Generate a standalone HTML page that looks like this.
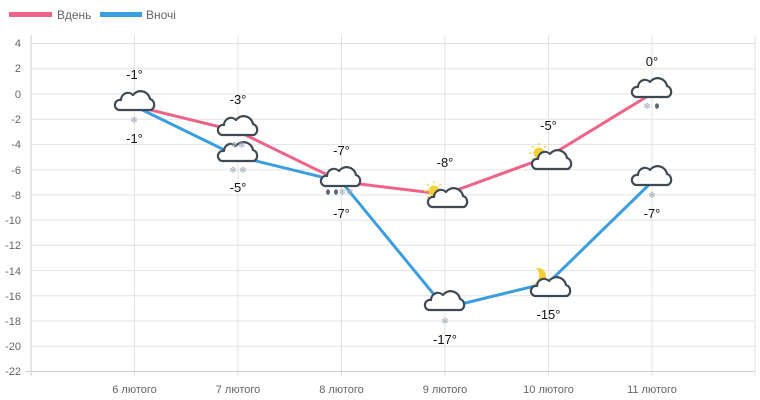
<!DOCTYPE html>
<html><head><meta charset="utf-8"><style>
html,body{margin:0;padding:0;background:#fff;}
svg{display:block;font-family:"Liberation Sans","DejaVu Sans",sans-serif;}
</style></head><body>
<svg width="760" height="400" viewBox="0 0 760 400">
<defs>
<g id="cl"><path d="M-16,8 H16 A6,6 0 0 0 15,-3 A9.5,9.5 0 0 0 -2,-7 A7,7 0 0 0 -14,-2 A5,5 0 0 0 -16,8 Z" fill="#fff" stroke="#3f4a57" stroke-width="2.2" stroke-linejoin="round"/></g>
<g id="sun"><circle r="5.5" fill="#f5cf3a"/><g stroke="#f5cf3a" stroke-width="1.3"><line x1="0" y1="-10" x2="0" y2="-7.5"/><line x1="-10" y1="0" x2="-7.5" y2="0"/><line x1="10" y1="0" x2="7.5" y2="0"/><line x1="-7" y1="-7" x2="-5.3" y2="-5.3"/><line x1="7" y1="-7" x2="5.3" y2="-5.3"/><line x1="-7" y1="7" x2="-5.3" y2="5.3"/><line x1="0" y1="10" x2="0" y2="7.5"/></g></g>
</defs>
<rect x="9" y="12" width="43" height="5" fill="#ef6386"/>
<text x="57" y="19" font-size="12" fill="#666">Вдень</text>
<rect x="100" y="12" width="42" height="5" fill="#3a9ee0"/>
<text x="146" y="19" font-size="12" fill="#666">Вночі</text>
<g stroke="#e3e3e3" stroke-width="1">
<line x1="31" y1="43.5" x2="755" y2="43.5"/><line x1="31" y1="68.7" x2="755" y2="68.7"/><line x1="31" y1="94" x2="755" y2="94"/><line x1="31" y1="119.2" x2="755" y2="119.2"/><line x1="31" y1="144.4" x2="755" y2="144.4"/><line x1="31" y1="169.7" x2="755" y2="169.7"/><line x1="31" y1="194.9" x2="755" y2="194.9"/><line x1="31" y1="220.1" x2="755" y2="220.1"/><line x1="31" y1="245.3" x2="755" y2="245.3"/><line x1="31" y1="270.6" x2="755" y2="270.6"/><line x1="31" y1="295.8" x2="755" y2="295.8"/><line x1="31" y1="321" x2="755" y2="321"/><line x1="31" y1="346.3" x2="755" y2="346.3"/>
<line x1="134.5" y1="35" x2="134.5" y2="376"/><line x1="238" y1="35" x2="238" y2="376"/><line x1="341.5" y1="35" x2="341.5" y2="376"/><line x1="445" y1="35" x2="445" y2="376"/><line x1="548.5" y1="35" x2="548.5" y2="376"/><line x1="652" y1="35" x2="652" y2="376"/><line x1="755" y1="35" x2="755" y2="376"/>
</g>
<line x1="31" y1="35" x2="31" y2="376" stroke="#ccc"/>
<line x1="26" y1="371.5" x2="755" y2="371.5" stroke="#ccc"/>
<g font-size="11" fill="#666" text-anchor="end">
<text x="21" y="47">4</text><text x="21" y="72">2</text><text x="21" y="98">0</text><text x="21" y="123">-2</text><text x="21" y="148">-4</text><text x="21" y="174">-6</text><text x="21" y="199">-8</text><text x="21" y="224">-10</text><text x="21" y="249">-12</text><text x="21" y="275">-14</text><text x="21" y="300">-16</text><text x="21" y="325">-18</text><text x="21" y="350">-20</text><text x="21" y="375">-22</text>
</g>
<g font-size="11" fill="#666" text-anchor="middle">
<text x="134.5" y="393">6 лютого</text><text x="238" y="393">7 лютого</text><text x="341.5" y="393">8 лютого</text><text x="445" y="393">9 лютого</text><text x="548.5" y="393">10 лютого</text><text x="652" y="393">11 лютого</text>
</g>
<polyline points="134.5,106.1 238,131.3 341.5,181.8 445,194.4 548.5,156.6 652,93.5" fill="none" stroke="#ef6386" stroke-width="3"/>
<polyline points="134.5,106.1 238,156.6 341.5,181.8 445,308 548.5,282.7 652,181.8" fill="none" stroke="#3a9ee0" stroke-width="3"/>
<use href="#cl" x="135" y="102"/>
<use href="#cl" x="238" y="127"/>
<use href="#cl" x="238" y="153"/>
<use href="#cl" x="341" y="178"/>
<use href="#sun" x="434" y="191"/><use href="#cl" x="448" y="199"/>
<use href="#sun" x="539" y="153"/><use href="#cl" x="552" y="161"/>
<use href="#cl" x="445" y="302"/>
<path d="M536,268 A8.5,8.5 0 1 1 534,284 A10,10 0 0 0 536,268 Z" fill="#f5cf3a"/>
<use href="#cl" x="551" y="288"/>
<use href="#cl" x="652" y="89"/>
<use href="#cl" x="652" y="177"/>
<g font-size="9" fill="#9aa6b4" text-anchor="middle">
<text x="134" y="123">❄</text><text x="238" y="148">❄❄</text><text x="238" y="173">❄ ❄</text><text x="346" y="195">❄❄</text><text x="445" y="324">❄</text><text x="647" y="109">❄</text><text x="652" y="198">❄</text>
</g>
<g fill="#5a6878">
<ellipse cx="328" cy="192" rx="2" ry="2.8"/><ellipse cx="336" cy="192" rx="2" ry="2.8"/><ellipse cx="657" cy="106" rx="2" ry="2.8"/>
</g>
<g font-size="13" fill="#111" text-anchor="middle">
<text x="134.5" y="79">-1°</text><text x="134.5" y="143">-1°</text>
<text x="238" y="104">-3°</text><text x="238" y="192">-5°</text>
<text x="341.5" y="155">-7°</text><text x="341.5" y="218">-7°</text>
<text x="445" y="167">-8°</text><text x="445" y="344">-17°</text>
<text x="548.5" y="130">-5°</text><text x="548.5" y="319">-15°</text>
<text x="652" y="66">0°</text><text x="652" y="218">-7°</text>
</g>
</svg>
</body></html>
